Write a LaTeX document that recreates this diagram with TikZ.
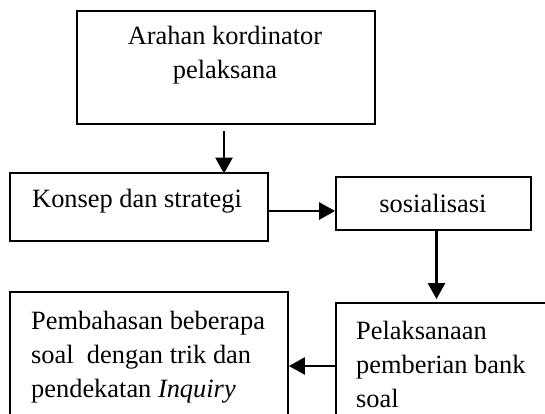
\documentclass[tikz,border=0pt]{standalone}
\usepackage{fontspec}
\setmainfont{Liberation Serif}
\usetikzlibrary{arrows.meta}
\begin{document}
\begin{tikzpicture}[x=1pt,y=-1pt,
  box/.style={draw, line width=1.8pt, inner sep=0pt},
  txt/.style={font=\fontsize{26.4}{34}\selectfont, inner sep=0pt},
  arr/.style={line width=2.6pt, -{Triangle[length=16pt,width=17pt]}}]
\useasboundingbox (0,0) rectangle (545,414);
\clip (0,0) rectangle (545,414);
% boxes
\node[box, minimum width=298pt, minimum height=113pt] (A) at (226,67.5) {};
\node[box, minimum width=258pt, minimum height=68pt] (B) at (139,207) {};
\node[box, minimum width=195pt, minimum height=53pt] (C) at (433.5,203.5) {};
\node[box, minimum width=264pt, minimum height=147pt] (D) at (468,376.5) {};
\node[box, minimum width=278pt, minimum height=158pt] (E) at (149,371) {};
% texts
\node[txt, anchor=base] (ta1) at (225,45) {Arahan kordinator};
\node[txt, anchor=base] (ta2) at (225,79) {pelaksana};
\node[txt, anchor=base west] (tb) at (32,207) {Konsep dan strategi};
\node[txt, anchor=base] (tc) at (433,212) {sosialisasi};
\node[txt, anchor=base west] (td1) at (356,339) {Pelaksanaan};
\node[txt, anchor=base west] (td2) at (356,373) {pemberian bank};
\node[txt, anchor=base west] (td3) at (356,407) {soal};
\node[txt, anchor=base west] (te1) at (31,329) {Pembahasan beberapa};
\node[txt, anchor=base west] (te2) at (31,363) {soal\ \ dengan trik dan};
\node[txt, anchor=base west] (te3) at (31,397) {pendekatan \textit{Inquiry}};
% connectors
\draw[arr] ([xshift=-2pt,yshift=-6pt]A.south) -- ([xshift=-2pt,yshift=-1.5pt]A.south |- B.north);
\draw[arr] ([yshift=-4pt]B.east) -- ([yshift=-4pt]B.east -| C.west);
\coordinate (cd) at ([xshift=3pt]C.south);
\draw[arr] (cd) -- ([yshift=3pt]cd |- D.north);
\draw[arr] ([yshift=10.5pt]D.west) -- ([yshift=10.5pt]D.west -| E.east);
\end{tikzpicture}
\end{document}
